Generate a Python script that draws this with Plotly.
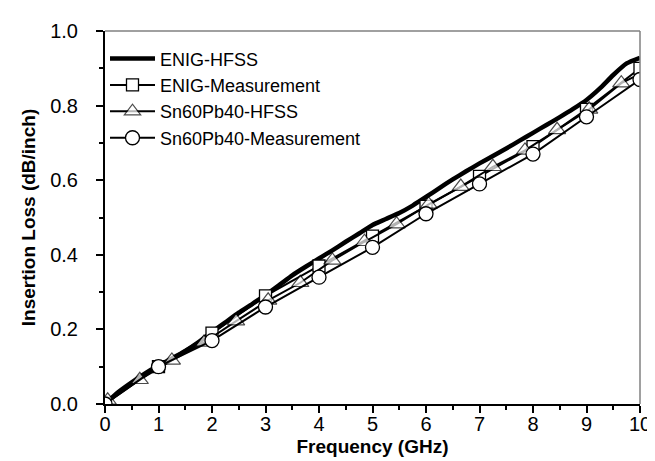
import plotly.graph_objects as go

# ---- data ----
hfss_enig_f = [0, 0.25, 0.5, 0.75, 1.0, 1.25, 1.5, 1.75, 2.0, 2.25, 2.5, 2.75, 3.0, 3.25, 3.5,
               3.75, 4.0, 4.25, 4.5, 4.75, 5.0, 5.25, 5.5, 5.75, 6.0, 6.25, 6.5, 6.75, 7.0,
               7.25, 7.5, 7.75, 8.0, 8.25, 8.5, 8.75, 9.0, 9.25, 9.5, 9.75, 10.0]
hfss_enig_il = [0.0, 0.032, 0.058, 0.082, 0.103, 0.122, 0.142, 0.166, 0.193, 0.219, 0.245,
                0.268, 0.292, 0.318, 0.345, 0.368, 0.39, 0.412, 0.435, 0.457, 0.48, 0.496,
                0.512, 0.532, 0.555, 0.579, 0.602, 0.624, 0.645, 0.665, 0.685, 0.706, 0.727,
                0.748, 0.769, 0.791, 0.815, 0.846, 0.882, 0.913, 0.928]

meas_f = [0, 1, 2, 3, 4, 5, 6, 7, 8, 9, 10]
meas_enig_il = [0.0, 0.10, 0.19, 0.29, 0.37, 0.45, 0.53, 0.61, 0.69, 0.79, 0.90]
meas_snpb_il = [0.0, 0.10, 0.17, 0.26, 0.34, 0.42, 0.51, 0.59, 0.67, 0.77, 0.87]

hfss_snpb_f = [0.05, 0.65, 1.25, 1.85, 2.45, 3.05, 3.65, 4.25, 4.85, 5.45, 6.05, 6.65,
               7.25, 7.85, 8.45, 9.05, 9.65, 10.0]
hfss_snpb_il = [0.01, 0.065, 0.117, 0.165, 0.222, 0.278, 0.325, 0.385, 0.435, 0.482, 0.535,
                0.583, 0.636, 0.68, 0.735, 0.79, 0.86, 0.885]
hfss_snpb_marked = [True] * 17 + [False]

names = ["ENIG-HFSS", "ENIG-Measurement", "Sn60Pb40-HFSS", "Sn60Pb40-Measurement"]

FONT = "Liberation Sans, Arial, sans-serif"

fig = go.Figure()
fig.add_trace(go.Scatter(x=hfss_enig_f, y=hfss_enig_il, mode="lines", name=names[0],
                         line=dict(color="black", width=4.5, shape="spline", smoothing=0.5)))
fig.add_trace(go.Scatter(x=meas_f, y=meas_enig_il, mode="lines+markers", name=names[1],
                         line=dict(color="black", width=2),
                         marker=dict(symbol="square", size=12, color="white",
                                     line=dict(color="black", width=1.3))))
fig.add_trace(go.Scatter(x=hfss_snpb_f, y=hfss_snpb_il, mode="lines+markers", name=names[2],
                         line=dict(color="black", width=2),
                         marker=dict(symbol="triangle-up", size=[15 if m else 0 for m in hfss_snpb_marked],
                                     color="white", line=dict(color="black", width=1.2))))
fig.add_trace(go.Scatter(x=meas_f, y=meas_snpb_il, mode="lines+markers", name=names[3],
                         line=dict(color="black", width=2),
                         marker=dict(symbol="circle", size=14, color="white",
                                     line=dict(color="black", width=1.3))))

# gray top/right frame
fig.add_shape(type="line", xref="x domain", yref="y domain", x0=0, x1=1, y0=1, y1=1,
              line=dict(color="#808080", width=1.5))
fig.add_shape(type="line", xref="x domain", yref="y domain", x0=1, x1=1, y0=0, y1=1,
              line=dict(color="#808080", width=1.5))

axis_common = dict(showgrid=False, zeroline=False, showline=True, linecolor="black", linewidth=2,
                   ticks="outside", ticklen=7, tickwidth=2, tickcolor="black",
                   tickfont=dict(family=FONT, size=20, color="black"))

fig.update_xaxes(range=[0, 10], dtick=1, tick0=0, ticklabelstandoff=-6,
                 minor=dict(ticks="outside", dtick=0.5, ticklen=4, tickwidth=2, tickcolor="black"),
                 title=dict(text="<b>Frequency (GHz)</b>", font=dict(family=FONT, size=19, color="black"),
                            standoff=6),
                 **axis_common)
fig.update_yaxes(range=[0, 1.0], dtick=0.2, tick0=0, tickformat=".1f", ticklabelstandoff=14,
                 minor=dict(ticks="outside", dtick=0.1, ticklen=4, tickwidth=2, tickcolor="black"),
                 title=dict(text="<b>Insertion Loss (dB/inch)</b>", font=dict(family=FONT, size=19, color="black"),
                            standoff=10),
                 **axis_common)

fig.update_layout(
    width=655, height=461,
    margin=dict(l=97, r=21, t=17, b=65),
    plot_bgcolor="white", paper_bgcolor="white",
    font=dict(family=FONT, color="black"),
    legend=dict(x=0.0, y=0.975, xanchor="left", yanchor="top", bgcolor="rgba(0,0,0,0)",
                font=dict(family=FONT, size=18, color="black"), itemwidth=45, tracegroupgap=0),
)

fig.write_html("out.html")
